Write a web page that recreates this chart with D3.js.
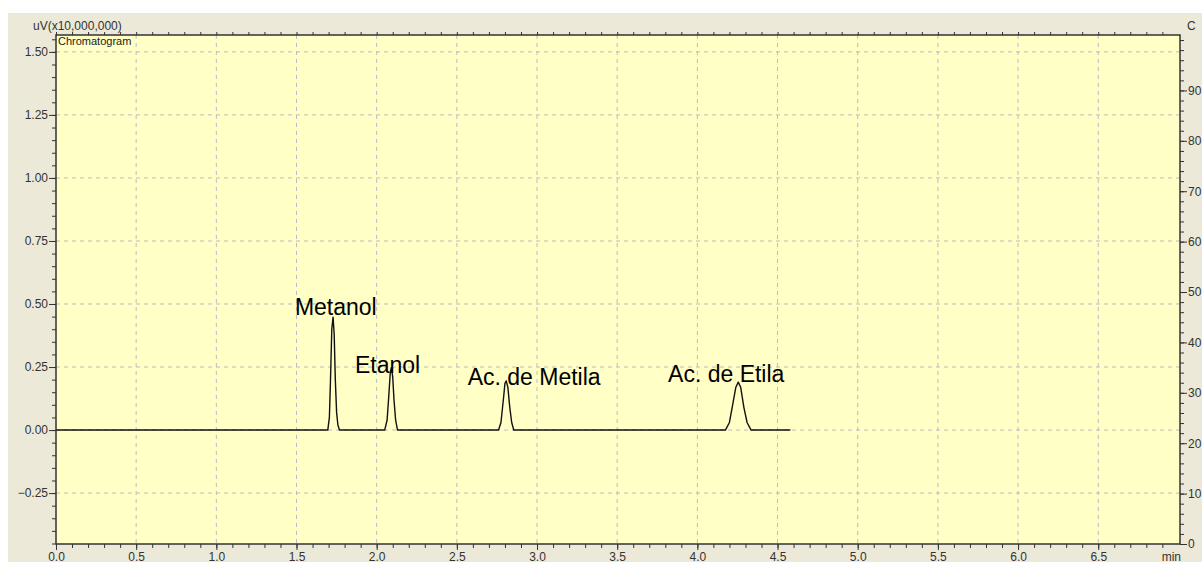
<!DOCTYPE html>
<html>
<head>
<meta charset="utf-8">
<script src="https://cdn.jsdelivr.net/npm/d3@7"></script>
<style>
  html, body { margin: 0; padding: 0; background: #ffffff; }
  svg { display: block; }
  text { font-family: "Liberation Sans", Arial, sans-serif; }
</style>
</head>
<body>
<div id="chart"></div>
<script>
// trace: time (min) and signal (uV x10,000,000)
var traceTime = [0.00, 1.695, 1.705, 1.712, 1.720, 1.728, 1.735, 1.742, 1.750, 1.758, 1.768,
  2.050, 2.065, 2.075, 2.085, 2.092, 2.100, 2.108, 2.118, 2.130,
  2.760, 2.775, 2.790, 2.800, 2.808, 2.818, 2.830, 2.842, 2.855,
  4.175, 4.200, 4.220, 4.240, 4.255, 4.270, 4.290, 4.310, 4.335, 4.580];
var traceValue = [0.000, 0.000, 0.050, 0.200, 0.400, 0.448, 0.380, 0.200, 0.070, 0.020, 0.000,
  0.000, 0.040, 0.130, 0.230, 0.248, 0.210, 0.120, 0.040, 0.000,
  0.000, 0.030, 0.120, 0.185, 0.195, 0.170, 0.090, 0.030, 0.000,
  0.000, 0.030, 0.100, 0.170, 0.190, 0.170, 0.090, 0.030, 0.000, 0.000];

var peakNames = ["Metanol", "Etanol", "Ac. de Metila", "Ac. de Etila"];
var labelTime = [1.745, 2.068, 2.982, 4.180];
var labelValue = [0.456, 0.226, 0.179, 0.190];

var xTicks = [0.0, 0.5, 1.0, 1.5, 2.0, 2.5, 3.0, 3.5, 4.0, 4.5, 5.0, 5.5, 6.0, 6.5];
var yTicks = [-0.25, 0.00, 0.25, 0.50, 0.75, 1.00, 1.25, 1.50];
var rTicks = [0, 10, 20, 30, 40, 50, 60, 70, 80, 90];

var W = 1202, H = 562;
var margin = { top: 35, right: 22, bottom: 18, left: 56 };
var width = W - margin.left - margin.right;   // 1124
var height = H - margin.top - margin.bottom;  // 509

var svg = d3.select("#chart").append("svg")
  .attr("width", W)
  .attr("height", H);

// window background
svg.append("rect").attr("x", 8).attr("y", 13).attr("width", W - 8).attr("height", H - 13)
  .attr("fill", "#ECE9D8");

var g = svg.append("g")
  .attr("transform", "translate(" + margin.left + "," + margin.top + ")");

var x = d3.scaleLinear().domain([0, 7.01]).range([0, width]);
var y = d3.scaleLinear().domain([-0.452, 1.567]).range([height, 0]);
var yR = d3.scaleLinear().domain([0, 101]).range([height, 0]);

g.append("rect").attr("width", width).attr("height", height).attr("fill", "#FFFFC6");

// grid
g.append("g").selectAll("line").data(xTicks.filter(function(d) { return d > 0; }))
  .enter().append("line")
  .attr("x1", function(d) { return x(d); }).attr("x2", function(d) { return x(d); })
  .attr("y1", 0).attr("y2", height)
  .attr("stroke", "#BCBCC6").attr("stroke-width", 1).attr("stroke-dasharray", "4,4");
g.append("g").selectAll("line").data(yTicks)
  .enter().append("line")
  .attr("y1", function(d) { return y(d); }).attr("y2", function(d) { return y(d); })
  .attr("x1", 0).attr("x2", width)
  .attr("stroke", "#BCBCC6").attr("stroke-width", 1).attr("stroke-dasharray", "4,4");

// trace
var pts = traceTime.map(function(t, i) { return [t, traceValue[i]]; });
g.append("path").datum(pts)
  .attr("fill", "none").attr("stroke", "#111").attr("stroke-width", 1.4)
  .attr("stroke-linejoin", "round")
  .attr("d", d3.line().x(function(d) { return x(d[0]); }).y(function(d) { return y(d[1]); }));

// peak labels
g.append("g").selectAll("text").data(peakNames).enter().append("text")
  .attr("x", function(d, i) { return x(labelTime[i]); })
  .attr("y", function(d, i) { return y(labelValue[i]); })
  .attr("text-anchor", "middle")
  .attr("font-size", 23)
  .attr("fill", "#000")
  .text(function(d) { return d; });

// axes
var axisColor = "#333";
var minorX = d3.range(0, 70).map(function(i) { return i / 10; });
var minorY = d3.range(-9, 32).map(function(i) { return i * 0.05; });
var minorR = d3.range(0, 51).map(function(i) { return i * 2; });

var axBottom = g.append("g").attr("transform", "translate(0," + height + ")")
  .call(d3.axisBottom(x).tickValues(xTicks).tickSize(6)
    .tickFormat(d3.format(".1f")));
var axBottomMinor = g.append("g").attr("transform", "translate(0," + height + ")")
  .call(d3.axisBottom(x).tickValues(minorX).tickSize(4).tickFormat(""));
var axTop = g.append("g")
  .call(d3.axisTop(x).tickValues(minorX).tickSize(3).tickFormat(""));
var axLeft = g.append("g")
  .call(d3.axisLeft(y).tickValues(yTicks).tickSize(7).tickPadding(1)
    .tickFormat(d3.format(".2f")));
var axLeftMinor = g.append("g")
  .call(d3.axisLeft(y).tickValues(minorY).tickSize(4).tickFormat(""));
var axRight = g.append("g").attr("transform", "translate(" + width + ",0)")
  .call(d3.axisRight(yR).tickValues(rTicks).tickSize(7).tickPadding(1)
    .tickFormat(d3.format("d")));
var axRightMinor = g.append("g").attr("transform", "translate(" + width + ",0)")
  .call(d3.axisRight(yR).tickValues(minorR).tickSize(4).tickFormat(""));

[axBottom, axBottomMinor, axTop, axLeft, axLeftMinor, axRight, axRightMinor].forEach(function(a) {
  a.select(".domain").remove();
  a.selectAll("line").attr("stroke", axisColor).attr("stroke-width", 1);
  a.selectAll("text").attr("fill", "#333").attr("font-size", 12)
    .style("font-family", "'Liberation Sans', Arial, sans-serif");
});
// bottom labels sit at the lower edge of the window
axBottom.selectAll("text").attr("y", 16.5).attr("dy", 0);

// frame
g.append("rect").attr("width", width).attr("height", height)
  .attr("fill", "none").attr("stroke", axisColor).attr("stroke-width", 1.5);

g.append("text").attr("x", width + 1).attr("y", height + 16.5)
  .attr("text-anchor", "end").attr("font-size", 12).attr("fill", "#333").text("min");

svg.append("text").attr("x", 33).attr("y", 30)
  .attr("font-size", 12).attr("fill", "#333").text("uV(x10,000,000)");
svg.append("text").attr("x", 58).attr("y", 45)
  .attr("font-size", 11).attr("fill", "#222").text("Chromatogram");
svg.append("text").attr("x", 1187).attr("y", 30)
  .attr("font-size", 12).attr("fill", "#333").text("C");
</script>
</body>
</html>
